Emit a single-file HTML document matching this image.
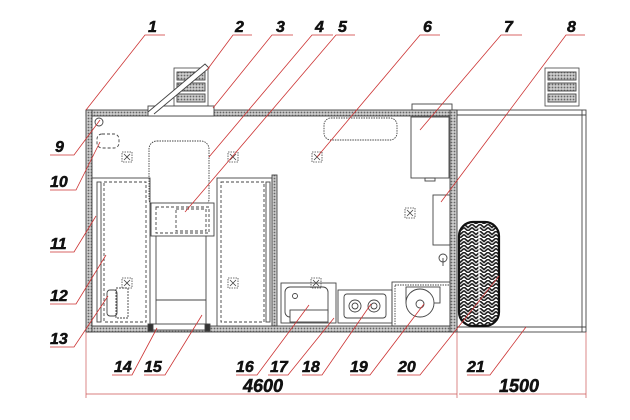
<!DOCTYPE html>
<html><head><meta charset="utf-8"><style>
html,body{margin:0;padding:0;background:#fff;}
svg{display:block}
text{font-family:"Liberation Sans",sans-serif;font-weight:bold;font-style:italic;font-size:16px;fill:#111;stroke:#111;stroke-width:0.5px;}
</style></head><body>
<svg width="630" height="420" viewBox="0 0 630 420" xmlns="http://www.w3.org/2000/svg">
<defs>
<pattern id="h" width="3" height="3" patternUnits="userSpaceOnUse">
<rect width="3" height="3" fill="#ccc"/><circle cx="1.5" cy="1.5" r="0.9" fill="#666"/>
</pattern>
<pattern id="tr" width="8" height="7" patternUnits="userSpaceOnUse">
<rect width="8" height="7" fill="#fff"/><path d="M0,0 L4,3.5 L8,0 M0,3.5 L4,7 L8,3.5" stroke="#222" stroke-width="1.6" fill="none"/>
</pattern>
<g id="fan"><rect x="-5" y="-5" width="10" height="10" fill="none" stroke="#444" stroke-dasharray="1.5,1" stroke-width="0.8"/><path d="M-3,-3L3,3M3,-3L-3,3" stroke="#444" stroke-width="0.8"/></g>
<g id="rack"><rect x="0" y="0" width="34" height="38" fill="#fff" stroke="#444" stroke-width="0.8"/><rect x="3" y="4" width="28" height="8" fill="url(#h)"/><rect x="3" y="15" width="28" height="8" fill="url(#h)"/><rect x="3" y="26" width="28" height="8" fill="url(#h)"/></g>
</defs>
<g stroke="#444" stroke-width="0.9" fill="none">
<rect x="457" y="110" width="129" height="222" fill="#fff"/>
<line x1="457" y1="115" x2="586" y2="115"/>
<line x1="457" y1="327" x2="586" y2="327"/>
<line x1="582" y1="110" x2="582" y2="332"/>
<rect x="86" y="110" width="371" height="6" fill="url(#h)"/>
<rect x="86" y="326" width="371" height="6" fill="url(#h)"/>
<rect x="86" y="110" width="6" height="222" fill="url(#h)"/>
<rect x="450" y="110" width="7" height="222" fill="url(#h)"/>
<use href="#rack" x="174" y="68"/>
<use href="#rack" x="545" y="68"/>
<rect x="148" y="106" width="66" height="10" fill="#fff"/>
<path d="M148,112 L205,64 L209,68 L154,114" fill="#fff"/>
<rect x="412" y="104" width="40" height="6" fill="#fff"/>
<rect x="92" y="178" width="58" height="148" fill="#fff"/>
<rect x="97" y="182" width="4" height="140"/>
<rect x="104" y="182" width="42" height="140" stroke-dasharray="3,2"/>
<rect x="217" y="178" width="55" height="148" fill="#fff"/>
<rect x="266" y="182" width="4" height="140"/>
<rect x="221" y="182" width="43" height="140" stroke-dasharray="3,2"/>
<rect x="272" y="175" width="5" height="151" fill="url(#h)"/>
<rect x="149" y="141" width="60" height="66" rx="8" stroke-dasharray="1.5,1"/>
<rect x="156" y="235" width="50" height="91"/>
<line x1="156" y1="300" x2="206" y2="300"/>
<rect x="151" y="203" width="63" height="33" fill="#fff"/>
<rect x="156" y="207" width="53" height="26" stroke-dasharray="3,2"/>
<rect x="176" y="209" width="30" height="22" stroke-dasharray="3,2"/>
<rect x="150" y="324" width="57" height="6" fill="#fff"/>
<rect x="148" y="324" width="5" height="7" fill="#333"/><rect x="205" y="324" width="5" height="7" fill="#333"/>
<circle cx="99" cy="122" r="4"/>
<rect x="97" y="134" width="22" height="14" rx="5" stroke-dasharray="3,2"/>
<rect x="107" y="290" width="10" height="26" rx="3"/><rect x="116" y="288" width="12" height="30" stroke-dasharray="2,1"/>
<rect x="324" y="118" width="73" height="22" rx="7" stroke-dasharray="1.5,1"/>
<rect x="411" y="117" width="38" height="61"/>
<rect x="425" y="178" width="10" height="3"/>
<rect x="433" y="195" width="17" height="50"/>
<circle cx="443" cy="258" r="4"/><line x1="443" y1="258" x2="443" y2="266"/>
<rect x="281" y="283" width="55" height="40"/>
<rect x="285" y="287" width="43" height="30" rx="5"/>
<rect x="290" y="310" width="38" height="12" fill="#fff"/>
<circle cx="295" cy="296" r="2.5"/>
<rect x="338" y="290" width="54" height="33"/>
<rect x="344" y="294" width="42" height="24" rx="3"/>
<circle cx="355" cy="306" r="6"/><circle cx="374" cy="306" r="6"/>
<circle cx="355" cy="306" r="3"/><circle cx="374" cy="306" r="3"/>
<rect x="392" y="282" width="58" height="44"/>
<rect x="395" y="285" width="55" height="41" stroke-dasharray="1.5,1"/>
<rect x="406" y="287" width="34" height="16"/>
<circle cx="420" cy="303" r="14" fill="#fff"/><circle cx="420" cy="304" r="4"/>
<rect x="459" y="222" width="40" height="104" rx="14" fill="url(#tr)" stroke="#111" stroke-width="2.2"/>
<line x1="479" y1="226" x2="479" y2="322" stroke="#fff" stroke-width="1.2"/>
<use href="#fan" x="127" y="157"/><use href="#fan" x="233" y="157"/><use href="#fan" x="317" y="157"/>
<use href="#fan" x="410" y="213"/><use href="#fan" x="127" y="283"/><use href="#fan" x="233" y="283"/><use href="#fan" x="316" y="283"/>
</g>
<g stroke="#c55" stroke-width="0.7" fill="none">
<line x1="86" y1="332" x2="86" y2="398"/><line x1="457" y1="332" x2="457" y2="398"/><line x1="586" y1="332" x2="586" y2="398"/>
<line x1="86" y1="394" x2="457" y2="394"/><line x1="459" y1="394" x2="586" y2="394"/>
</g>
<g stroke="#c33" stroke-width="0.8" fill="none">
<path d="M165,35H145L86,110"/><path d="M252,35H233L207,70"/><path d="M293,35H272L213,108"/>
<path d="M333,35H312L209,157"/><path d="M355,35H336L185,212"/><path d="M440,35H420L317,157"/>
<path d="M522,35H501L420,130"/><path d="M585,35H566L441,202"/>
<path d="M50,155H74L100,120"/><path d="M50,190H76L100,142"/><path d="M50,252H74L96,216"/>
<path d="M50,304H76L106,255"/><path d="M50,347H74L108,296"/>
<path d="M112,375H132L157,328"/><path d="M144,375H165L202,315"/><path d="M236,375H257L309,305"/>
<path d="M268,375H288L334,318"/><path d="M302,375H322L371,304"/><path d="M350,375H370L424,304"/>
<path d="M397,375H420L499,276"/><path d="M467,375H490L526,327"/>
</g>
<text x="148" y="32">1</text><text x="235" y="32">2</text><text x="276" y="32">3</text><text x="315" y="32">4</text>
<text x="338" y="32">5</text><text x="423" y="32">6</text><text x="504" y="32">7</text><text x="567" y="32">8</text>
<text x="55" y="152">9</text><text x="50" y="187">10</text><text x="50" y="249">11</text><text x="50" y="301">12</text><text x="50" y="344">13</text>
<text x="114" y="372">14</text><text x="144" y="372">15</text><text x="236" y="372">16</text><text x="270" y="372">17</text>
<text x="302" y="372">18</text><text x="350" y="372">19</text><text x="398" y="372">20</text><text x="467" y="372">21</text>
<text x="243" y="392" style="font-size:18px">4600</text><text x="499" y="392" style="font-size:18px">1500</text>
</svg>
</body></html>
